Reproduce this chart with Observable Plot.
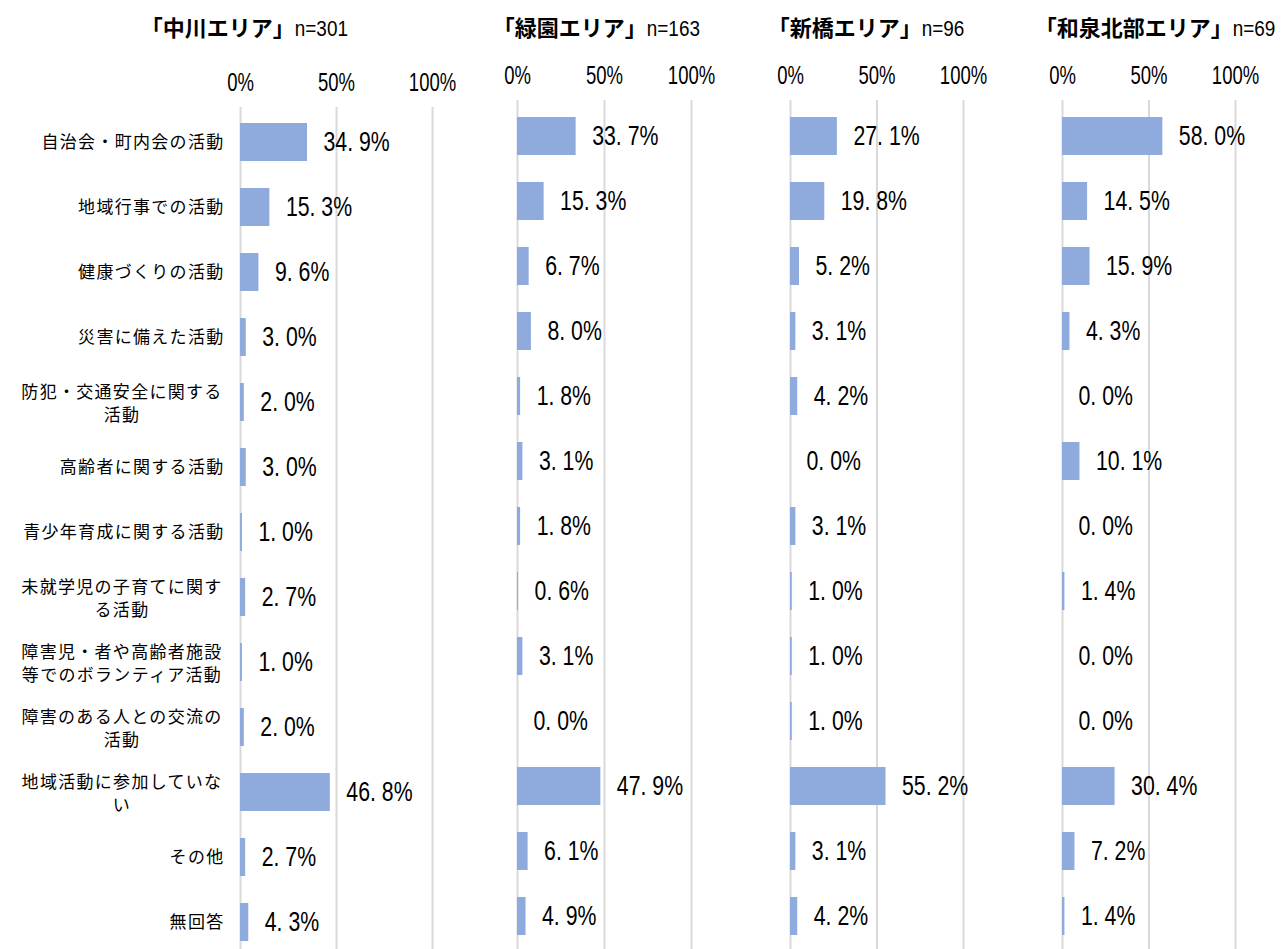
<!DOCTYPE html>
<html>
<head>
<meta charset="utf-8">
<script src="https://cdn.jsdelivr.net/npm/d3@7"></script>
<script src="https://cdn.jsdelivr.net/npm/@observablehq/plot@0.6"></script>
<style>
html, body { margin: 0; padding: 0; background: #fff; overflow: hidden; }
#chart { position: relative; width: 1284px; height: 949px; overflow: hidden; background: #fff; }
.panel { position: absolute; top: 0; }
.title { position: absolute; top: 9px; white-space: nowrap; transform: translateX(-50%); color: #000; line-height: 34px; }
.title .name { font-family: "Noto Sans CJK JP", sans-serif; font-weight: bold; font-size: 22px; }
.title .n { font-family: "Liberation Sans", sans-serif; font-size: 21.5px; display: inline-block; transform: scaleX(0.88); transform-origin: left center; margin-right: -6px; }
.catlabel text { letter-spacing: 1.3px; }
</style>
</head>
<body>
<div id="chart"></div>
<script>
// ---- data ----
const categories = [
  "自治会・町内会の活動",
  "地域行事での活動",
  "健康づくりの活動",
  "災害に備えた活動",
  "防犯・交通安全に関する\n活動",
  "高齢者に関する活動",
  "青少年育成に関する活動",
  "未就学児の子育てに関す\nる活動",
  "障害児・者や高齢者施設\n等でのボランティア活動",
  "障害のある人との交流の\n活動",
  "地域活動に参加していな\nい",
  "その他",
  "無回答"
];
const areaNames = ["「中川エリア」", "「緑園エリア」", "「新橋エリア」", "「和泉北部エリア」"];
const areaN = ["n=301", "n=163", "n=96", "n=69"];
const nakagawa = [34.9, 15.3, 9.6, 3.0, 2.0, 3.0, 1.0, 2.7, 1.0, 2.0, 46.8, 2.7, 4.3];
const ryokuen  = [33.7, 15.3, 6.7, 8.0, 1.8, 3.1, 1.8, 0.6, 3.1, 0.0, 47.9, 6.1, 4.9];
const shinbashi = [27.1, 19.8, 5.2, 3.1, 4.2, 0.0, 3.1, 1.0, 1.0, 1.0, 55.2, 3.1, 4.2];
const izumiHokubu = [58.0, 14.5, 15.9, 4.3, 0.0, 10.1, 0.0, 1.4, 0.0, 0.0, 30.4, 7.2, 1.4];
const xTicks = [0, 50, 100];

const series = [nakagawa, ryokuen, shinbashi, izumiHokubu];

// ---- layout (positions/styles) ----
const layout = [
  {left: 0,    width: 460, marginLeft: 240, marginRight: 28, marginTop: 107, height: 957, padOuter: 0.2,  titleX: 245},
  {left: 460,  width: 270, marginLeft: 57,  marginRight: 39, marginTop: 100, height: 952, padOuter: 0.23, titleX: 597},
  {left: 730,  width: 270, marginLeft: 60,  marginRight: 37, marginTop: 100, height: 952, padOuter: 0.23, titleX: 866},
  {left: 1000, width: 284, marginLeft: 62,  marginRight: 49, marginTop: 100, height: 952, padOuter: 0.23, titleX: 1155}
];
const NUMFONT = "'Liberation Sans', Arial, sans-serif";
const CJK = "'Noto Sans CJK JP', sans-serif";
const BAR = "#8faadc";
const GRID = "#d9d9d9";

const fmt = v => v.toFixed(1).replace(".", ". ") + "%";

// horizontally condense text (the original uses a narrow half-width font)
function condense(nodes, k) {
  nodes.forEach(t => {
    const w = t.getComputedTextLength();
    if (w > 0) {
      t.setAttribute("textLength", (w * k).toFixed(2));
      t.setAttribute("lengthAdjust", "spacingAndGlyphs");
    }
  });
}

const chart = document.getElementById("chart");

series.forEach((vals, i) => {
  const L = layout[i];
  const data = categories.map((c, j) => ({category: c, value: vals[j]}));
  const marks = [
    Plot.ruleX(xTicks, {stroke: GRID, strokeWidth: 2}),
    Plot.barX(data, {x: "value", y: "category", fill: BAR}),
    Plot.text(data, {
      x: "value", y: "category", text: d => fmt(d.value),
      textAnchor: "start", dx: 16, fontSize: 28, fontFamily: NUMFONT, fill: "#000",
      className: "vlabel"
    }),
    Plot.axisX({
      anchor: "top", ticks: xTicks, tickSize: 0, tickPadding: 17,
      tickFormat: d => d + "%", fontSize: 25, fontFamily: NUMFONT, label: null
    })
  ];
  if (i === 0) {
    marks.push(
      Plot.text(categories.filter(c => !c.includes("\n")), {
        y: d => d, text: d => d, frameAnchor: "left", textAnchor: "end", dx: -16,
        fontSize: 17, fontFamily: CJK, fill: "#000", className: "catlabel"
      }),
      Plot.text(categories.filter(c => c.includes("\n")), {
        y: d => d, text: d => d, frameAnchor: "left", textAnchor: "middle", dx: -118.5,
        fontSize: 17, fontFamily: CJK, fill: "#000", lineHeight: 1.35, className: "catlabel"
      })
    );
  }
  const svg = Plot.plot({
    width: L.width,
    height: L.height,
    marginTop: L.marginTop,
    marginBottom: 0,
    marginLeft: L.marginLeft,
    marginRight: L.marginRight,
    style: {fontFamily: NUMFONT, fontSize: "24px", color: "#000", background: "transparent", overflow: "visible"},
    x: {domain: [0, 100], axis: null},
    y: {domain: categories, paddingInner: 0.42, paddingOuter: L.padOuter, axis: null},
    marks
  });
  const wrap = document.createElement("div");
  wrap.className = "panel";
  wrap.style.left = L.left + "px";
  wrap.appendChild(svg);
  chart.appendChild(wrap);

  condense(svg.querySelectorAll(".vlabel text"), 0.76);
  condense(svg.querySelectorAll('g[aria-label="x-axis tick label"] text'), 0.74);

  const t = document.createElement("div");
  t.className = "title";
  t.style.left = L.titleX + "px";
  t.innerHTML = `<span class="name">${areaNames[i]}</span><span class="n">${areaN[i]}</span>`;
  chart.appendChild(t);
});
</script>
</body>
</html>
